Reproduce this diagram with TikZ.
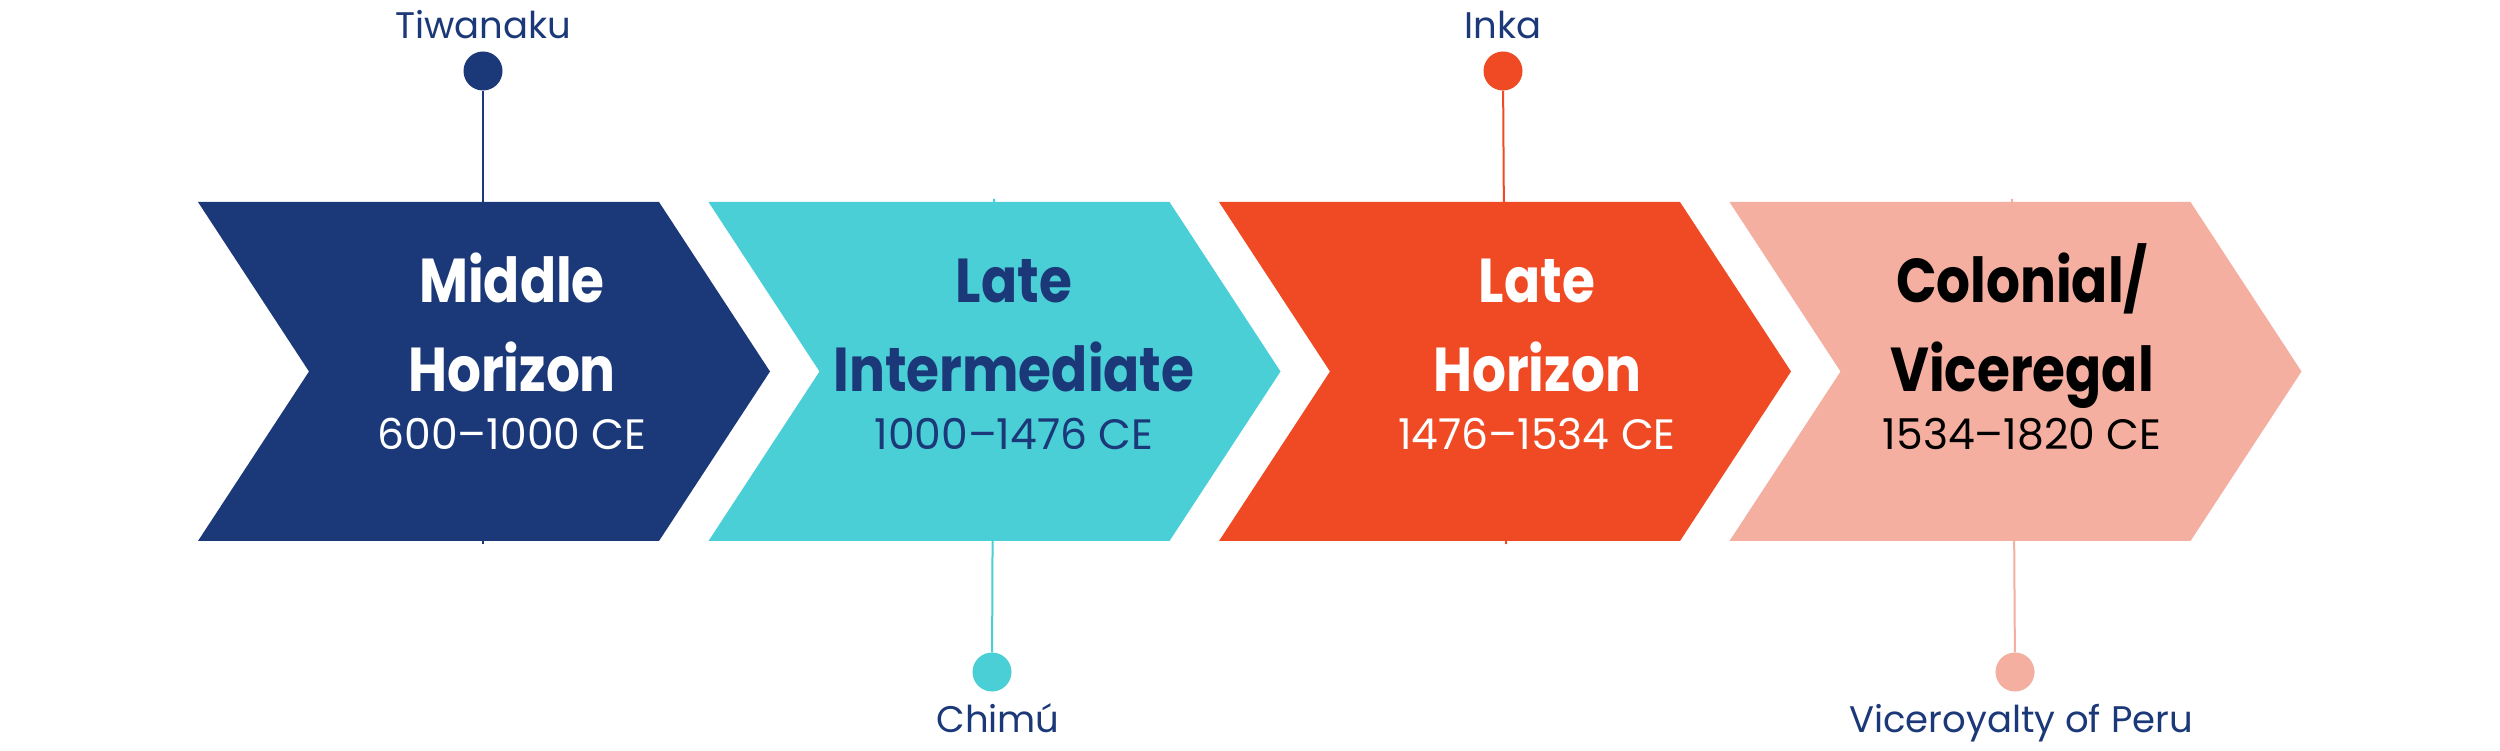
\documentclass[tikz,border=0pt]{standalone}
\usepackage{fontspec}
\setmainfont{Poppins}
\usepackage{xcolor}
\usepackage{tikz}
\usetikzlibrary{positioning, calc}
\definecolor{mhblue}{HTML}{1B3878}
\definecolor{licyan}{HTML}{4BCFD7}
\definecolor{lhred}{HTML}{EF4A24}
\definecolor{cvpink}{HTML}{F4AFA0}
\newfontfamily\titlefont[FakeStretch=0.86]{Poppins Bold}
\newfontfamily\datefont{Poppins}
\tikzset{
  title/.style={anchor=base, inner sep=0pt, font=\titlefont\fontsize{62}{64}\selectfont},
  period/.style={anchor=base, inner sep=0pt, font=\datefont\fontsize{42.5}{46}\selectfont},
  culture/.style={anchor=base, inner sep=0pt, text=mhblue, font=\datefont\fontsize{37}{40}\selectfont},
  dot/.style={circle, minimum size=39pt, inner sep=0pt},
  stem/.style={line width=2pt}
}

\begin{document}
\begin{tikzpicture}[x=1pt, y=1pt]
  \useasboundingbox (0,0) rectangle (2500,750);
  \fill[white] (0,0) rectangle (2500,750);
  % --- culture markers and stems (behind the chevrons) ---------------
  \node[dot, fill=mhblue] (tiw) at (483, 679) {};
  \node[culture] (tiw-l) at (483, 711) {Tiwanaku};
  \coordinate (mh-end) at (483, 206);
  \draw[stem, mhblue] (tiw) -- (mh-end);
  \node[dot, fill=licyan] (chi) at (992, 78) {};
  \node[culture] (chi-l) at (998, 18) {Chimú};
  \coordinate (li-end) at (994, 551);
  \draw[stem, licyan] (chi) -- (li-end);
  \node[dot, fill=lhred] (ink) at (1503, 679) {};
  \node[culture] (ink-l) at (1503, 711) {Inka};
  \coordinate (lh-end) at (1506, 206);
  \draw[stem, lhred] (ink) -- (lh-end);
  \node[dot, fill=cvpink] (vic) at (2015, 78) {};
  \node[culture] (vic-l) at (2021, 18) {Viceroyalty of Peru};
  \coordinate (cv-end) at (2012, 551);
  \draw[stem, cvpink] (vic) -- (cv-end);
  % --- chevrons -------------------------------------------------------
  \fill[mhblue] (198,548) -- (659,548) -- (770,378.5) -- (659,209) -- (198,209) -- (309,378.5) -- cycle;
  \fill[licyan] (708.5,548) -- (1169.5,548) -- (1280.5,378.5) -- (1169.5,209) -- (708.5,209) -- (819.5,378.5) -- cycle;
  \fill[lhred] (1219,548) -- (1680,548) -- (1791,378.5) -- (1680,209) -- (1219,209) -- (1330,378.5) -- cycle;
  \fill[cvpink] (1729.5,548) -- (2190.5,548) -- (2301.5,378.5) -- (2190.5,209) -- (1729.5,209) -- (1840.5,378.5) -- cycle;
  % --- period names and dates -----------------------------------------
  \node[title, white] (mh-a) at (512, 447) {Middle};
  \node[title, white] (mh-b) at (512, 358) {Horizon};
  \node[period, white] (mh-d) at (512, 300) {600–1000 CE};
  \node[title, mhblue] (li-a) at (1014, 447) {Late};
  \node[title, mhblue] (li-b) at (1014, 358) {Intermediate};
  \node[period, mhblue] (li-d) at (1014, 300) {1000–1476 CE};
  \node[title, white] (lh-a) at (1537, 447) {Late};
  \node[title, white] (lh-b) at (1537, 358) {Horizon};
  \node[period, white] (lh-d) at (1537, 300) {1476–1534 CE};
  \node[title, black] (cv-a) at (2022, 447) {Colonial/};
  \node[title, black] (cv-b) at (2022, 358) {Viceregal};
  \node[period, black] (cv-d) at (2022, 300) {1534–1820 CE};
\end{tikzpicture}
\end{document}
